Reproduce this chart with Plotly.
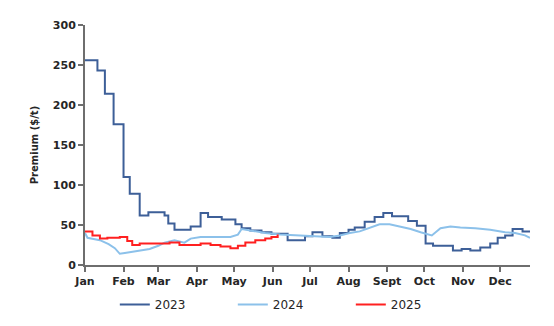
import plotly.graph_objects as go
import pandas as pd

# day-of-year positions (0 = 1 Jan) and premium values ($/t)
days_2023 = [0, 10, 16, 23, 31, 36, 44, 51, 64, 67, 72, 85, 93, 99, 110, 121, 126, 133, 142, 150, 163,
             177, 183, 191, 199, 205, 212, 217, 225, 233, 240, 247, 260, 267, 274, 280, 296, 303, 310,
             318, 326, 332, 338, 344, 352, 358]
prem_2023 = [256, 243, 214, 176, 110, 89, 62, 66, 62, 52, 44, 48, 65, 60, 57, 51, 46, 43, 41, 39, 31,
             36, 41, 36, 34, 40, 44, 47, 54, 60, 65, 61, 55, 49, 27, 24, 18, 20, 18,
             22, 27, 34, 37, 45, 42, 42]

days_2024 = [0, 2, 12, 19, 24, 28, 32, 39, 52, 59, 64, 72, 80, 85, 93, 117, 123, 126, 133, 145, 157,
             173, 197, 205, 213, 221, 229, 237, 245, 254, 262, 270, 279, 286, 294, 302, 314, 326,
             338, 346, 354, 358]
prem_2024 = [40, 34, 31, 26, 21, 14, 15, 17, 20, 24, 28, 31, 28, 33, 35, 35, 38, 45, 43, 40, 38,
             37, 35, 37, 40, 42, 47, 51, 51, 48, 45, 41, 37, 46, 48, 47, 46, 44,
             41, 40, 37, 34]

days_2025 = [0, 6, 12, 18, 28, 34, 38, 44, 68, 76, 93, 101, 109, 117, 123, 129, 137, 145, 150, 155]
prem_2025 = [42, 37, 33, 34, 35, 30, 25, 27, 28, 25, 27, 25, 23, 21, 24, 28, 31, 33, 35, 38]

month_labels = ["Jan", "Feb", "Mar", "Apr", "May", "Jun", "Jul", "Aug", "Sept", "Oct", "Nov", "Dec"]
month_starts = [(pd.Timestamp(2023, m, 1) - pd.Timestamp(2023, 1, 1)).days for m in range(1, 13)]

fig = go.Figure()
fig.add_trace(go.Scatter(x=days_2023, y=prem_2023, name="2023", mode="lines",
                         line=dict(color="#3D5F98", width=2, shape="hv")))
fig.add_trace(go.Scatter(x=days_2024, y=prem_2024, name="2024", mode="lines",
                         line=dict(color="#8CC1EA", width=2, shape="linear")))
fig.add_trace(go.Scatter(x=days_2025, y=prem_2025, name="2025", mode="lines",
                         line=dict(color="#FF2020", width=2, shape="hv")))

axis_font = dict(family="DejaVu Sans", size=11, color="#262626", weight="bold")

fig.update_layout(
    width=554, height=326,
    margin=dict(l=85, r=24, t=25, b=61, autoexpand=False),
    paper_bgcolor="white", plot_bgcolor="white",
    showlegend=True,
    legend=dict(orientation="h", x=0.067, xanchor="left", y=-0.104, yanchor="top",
                font=dict(family="DejaVu Sans", size=12, color="#262626"),
                entrywidth=73, entrywidthmode="pixels", itemwidth=30,
                bgcolor="rgba(0,0,0,0)"),
    xaxis=dict(range=[0, 358], tickmode="array", tickvals=month_starts, ticktext=month_labels,
               showgrid=False, zeroline=False, showline=True, linecolor="#6E6E6E", linewidth=2,
               ticks="outside", ticklen=5, tickwidth=1.5, tickcolor="#6E6E6E",
               tickfont=axis_font),
    yaxis=dict(range=[0, 300], tickmode="linear", dtick=50, tick0=0,
               showgrid=False, zeroline=False, showline=True, linecolor="#6E6E6E", linewidth=2,
               ticks="outside", ticklen=5, tickwidth=1.5, tickcolor="#6E6E6E",
               tickfont=axis_font,
               title=dict(text="Premium ($/t)", standoff=12,
                          font=dict(family="DejaVu Sans", size=10, color="#262626", weight="bold"))),
)

fig.write_html("out.html")
